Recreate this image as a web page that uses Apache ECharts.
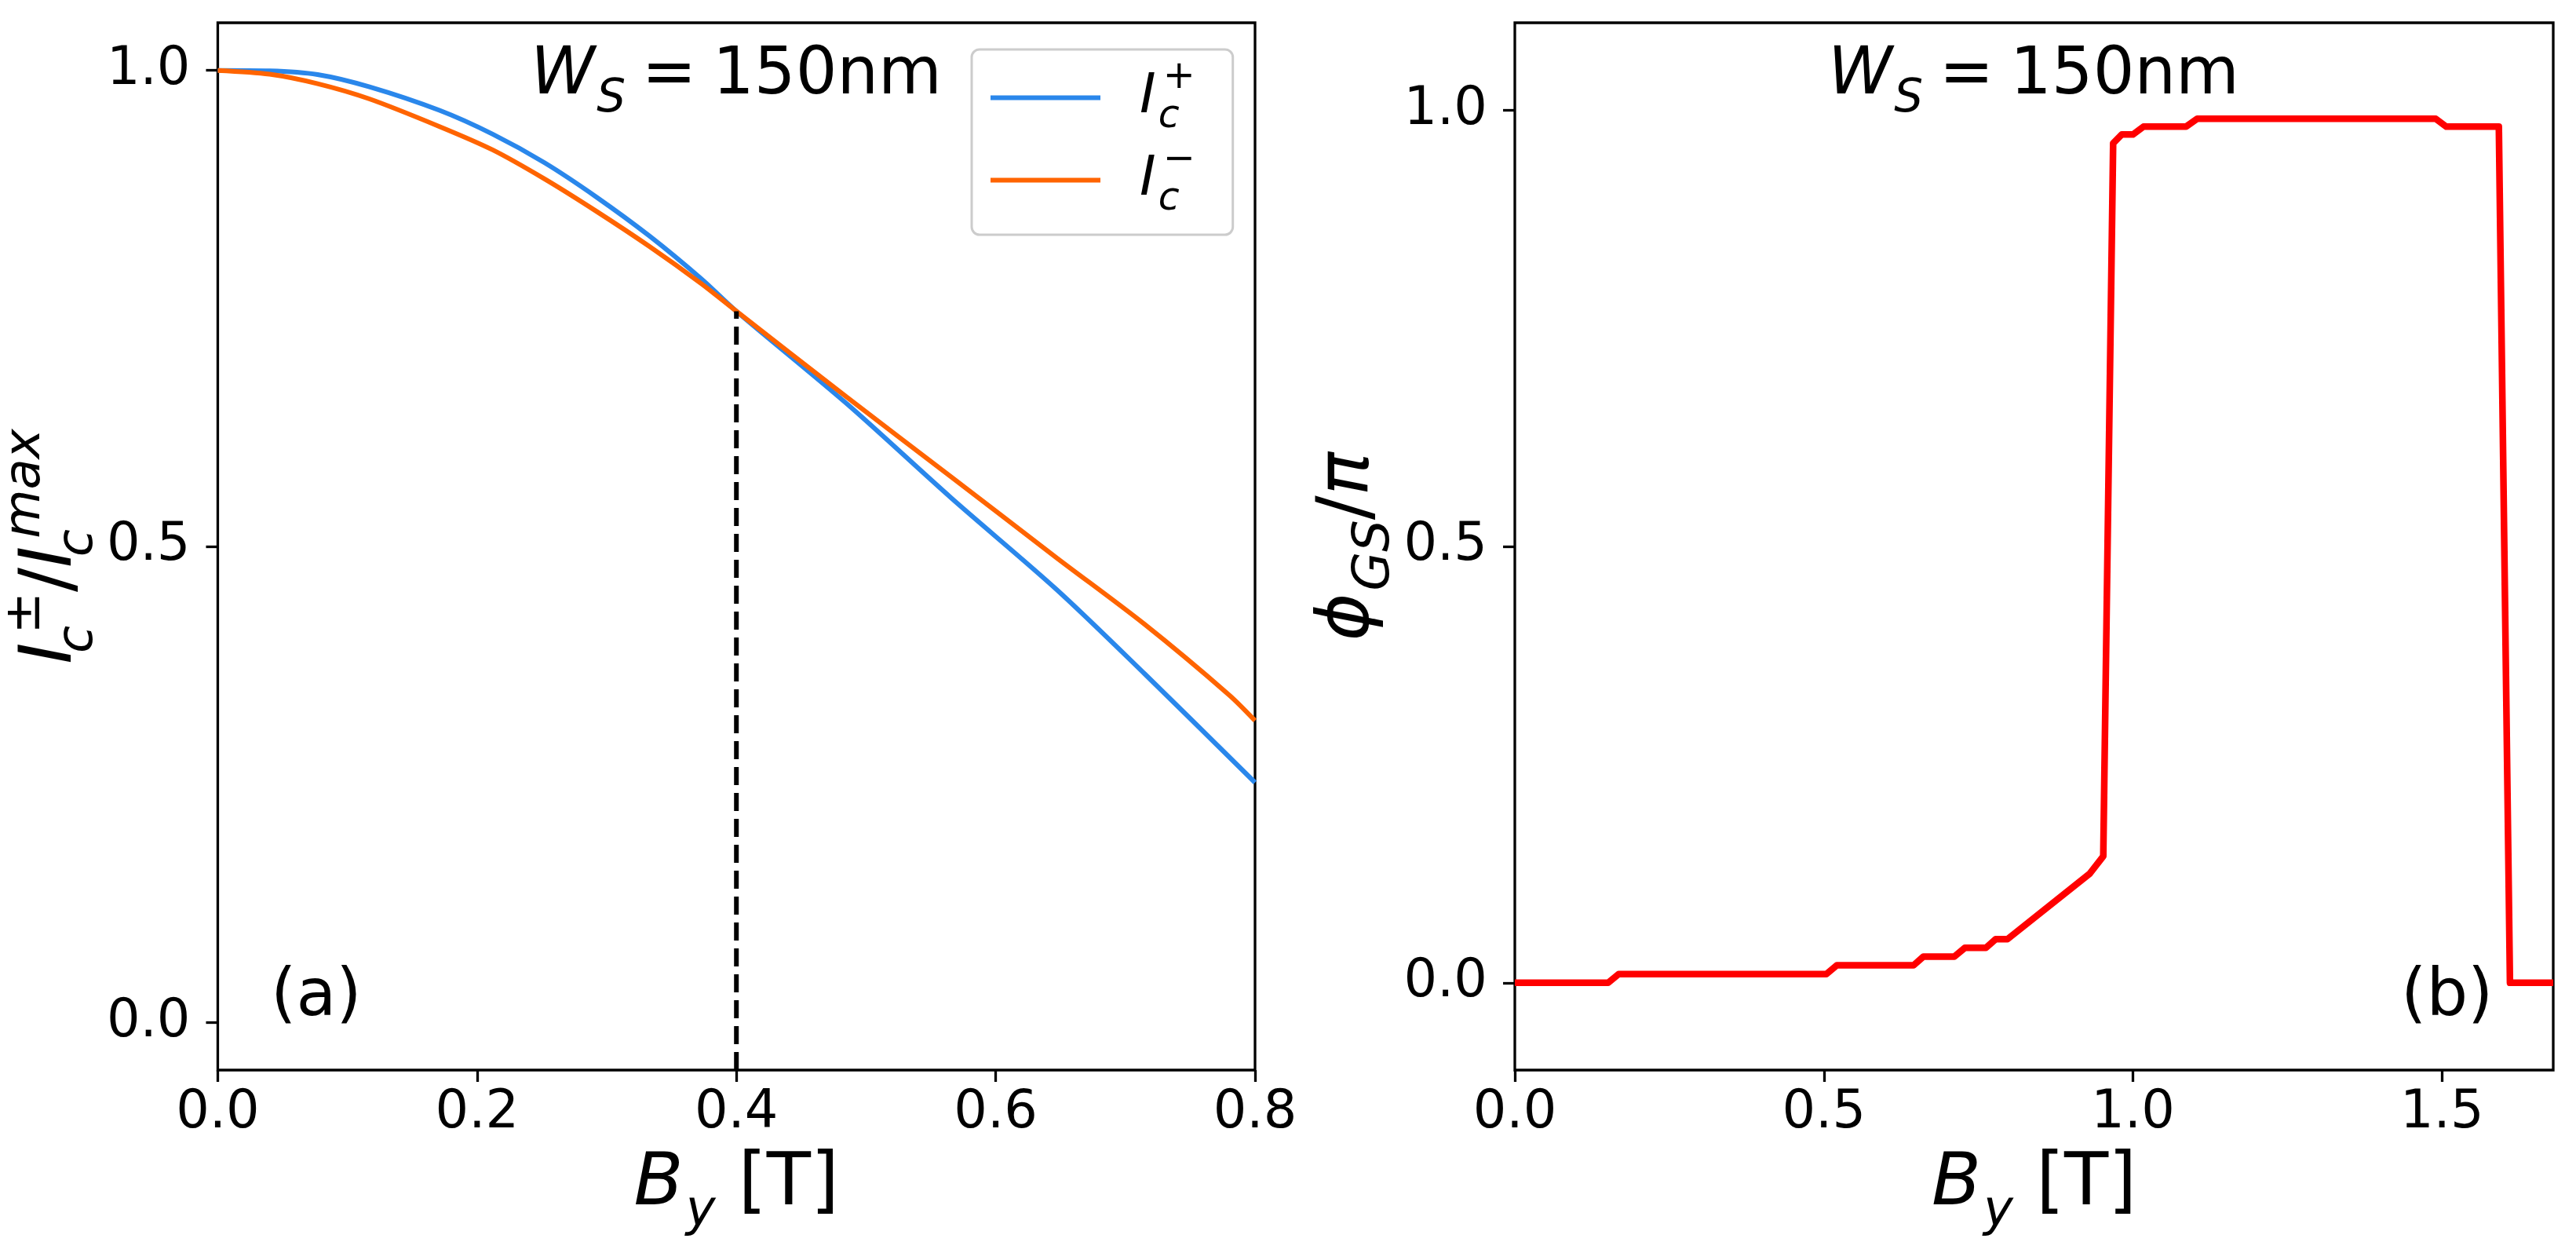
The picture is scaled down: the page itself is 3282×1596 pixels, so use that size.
<!DOCTYPE html>
<html lang="en">
<head>
<meta charset="UTF-8">
<title>Ic and phase vs By</title>
<script src="https://cdn.jsdelivr.net/npm/echarts@6/dist/echarts.min.js"></script>
<style>
body { margin: 0; padding: 0; background: white; }
#main { width: 3282px; height: 1596px; }
</style>
</head>
<body>
<div id="main"></div>
<script>
// panel (a): normalized critical currents vs By
var bPlus = [0, 0.04, 0.077, 0.117, 0.171, 0.212, 0.252, 0.292, 0.333, 0.373, 0.4, 0.485, 0.566, 0.647, 0.715, 0.8];
var icPlus = [1.0, 0.9995, 0.9956, 0.9827, 0.958, 0.933, 0.903, 0.867, 0.826, 0.781, 0.747, 0.650, 0.5505, 0.4547, 0.366, 0.252];
var bMinus = [0, 0.04, 0.077, 0.117, 0.171, 0.212, 0.252, 0.292, 0.333, 0.373, 0.4, 0.485, 0.566, 0.647, 0.715, 0.78, 0.8];
var icMinus = [1.0, 0.996, 0.986, 0.970, 0.941, 0.9165, 0.886, 0.852, 0.815, 0.776, 0.747, 0.657, 0.5727, 0.488, 0.418, 0.344, 0.317];
var crossX = [0.4, 0.4];
var crossY = [-0.05, 0.747];

// panel (b): ground state phase / pi vs By
var bB = [0, 0.151, 0.168, 0.504, 0.521, 0.645, 0.661, 0.711, 0.728, 0.762, 0.778, 0.797, 0.930, 0.952,
          0.968, 0.982, 1.0, 1.017, 1.086, 1.104, 1.49, 1.507, 1.592, 1.61, 1.68];
var phiGS = [0, 0, 0.01, 0.01, 0.02, 0.02, 0.03, 0.03, 0.04, 0.04, 0.05, 0.05, 0.125, 0.145,
             0.962, 0.972, 0.972, 0.981, 0.981, 0.99, 0.99, 0.981, 0.981, 0.0, 0.0];

var ticksA_x = [0, 0.2, 0.4, 0.6, 0.8];
var ticksA_y = [0, 0.5, 1.0];
var ticksB_x = [0, 0.5, 1.0, 1.5];
var ticksB_y = [0, 0.5, 1.0];

var FONT = 'DejaVu Sans';

function zip(xs, ys) {
    return xs.map(function (x, i) { return [x, ys[i]]; });
}

// rich styles that fake mathtext sub/superscripts
function mathRich(s) {
    var L = Math.round(1.42 * s), ss = Math.round(0.7 * s), hs = Math.round(0.864 * s);
    var base = {fontFamily: FONT, color: '#000'};
    function st(o) { return Object.assign({}, base, o); }
    return {
        it: st({fontSize: s, fontStyle: 'italic', lineHeight: L, verticalAlign: 'middle'}),
        itg: st({fontSize: s, fontStyle: 'italic', lineHeight: L, verticalAlign: 'middle', padding: [0, 0, 0, 45]}),
        rm: st({fontSize: s, lineHeight: L, verticalAlign: 'middle'}),
        sub: st({fontSize: ss, fontStyle: 'italic', lineHeight: ss, verticalAlign: 'bottom', padding: [0, 0, 0, Math.round(0.03 * s)]}),
        subz: st({fontSize: ss, fontStyle: 'italic', lineHeight: ss, verticalAlign: 'bottom', width: 0, padding: [0, 0, 0, Math.round(0.04 * s)]}),
        sup: st({fontSize: ss, lineHeight: hs, verticalAlign: 'top', padding: [0, 0, 0, Math.round(0.08 * s)]}),
        supi: st({fontSize: ss, fontStyle: 'italic', lineHeight: hs, verticalAlign: 'top', padding: [0, 0, 0, Math.round(0.06 * s)]})
    };
}

function fmt1(v) { return v.toFixed(1); }

function xAxisCfg(grid, min, max, ticks) {
    return {
        type: 'value', gridIndex: grid, min: min, max: max,
        axisLine: {show: false, onZero: false},
        splitLine: {show: false},
        axisTick: {show: true, length: 15, customValues: ticks, lineStyle: {color: '#000', width: 3.3}},
        axisLabel: {customValues: ticks, formatter: fmt1, fontSize: 67, fontFamily: FONT, color: '#000', margin: 22},
        name: '{it|B}{sub|y}{rm| [T]}',
        nameLocation: 'middle',
        nameGap: 82,
        nameTextStyle: {rich: mathRich(92)}
    };
}

function yAxisCfg(grid, min, max, ticks, name) {
    return {
        type: 'value', gridIndex: grid, min: min, max: max,
        axisLine: {show: false, onZero: false},
        splitLine: {show: false},
        axisTick: {show: true, length: 15, customValues: ticks, lineStyle: {color: '#000', width: 3.3}},
        axisLabel: {customValues: ticks, formatter: fmt1, fontSize: 67, fontFamily: FONT, color: '#000', margin: 35},
        name: name,
        nameLocation: 'middle',
        nameRotate: 90,
        nameGap: 134,
        nameTextStyle: {rich: mathRich(92)}
    };
}

var chart = echarts.init(document.getElementById('main'));

var wsText = '{it|W}{sub|S}{rm|\u2005=\u2005150nm}';

chart.setOption({
    backgroundColor: '#fff',
    animation: false,
    grid: [
        {left: 277, top: 29, width: 1322, height: 1334, show: true, borderColor: '#000', borderWidth: 3.3, backgroundColor: 'transparent'},
        {left: 1930, top: 29, width: 1323, height: 1334, show: true, borderColor: '#000', borderWidth: 3.3, backgroundColor: 'transparent'}
    ],
    xAxis: [
        xAxisCfg(0, 0, 0.8, ticksA_x),
        xAxisCfg(1, 0, 1.68, ticksB_x)
    ],
    yAxis: [
        yAxisCfg(0, -0.05, 1.05, ticksA_y, '{it|I}{subz|c}{sup|±}{rm|/}{it|I}{subz|c}{supi|max}'),
        yAxisCfg(1, -0.1, 1.1, ticksB_y, '{it|ϕ}{sub|GS}{rm|/}{it|π}')
    ],
    legend: {
        data: ['Ic+', 'Ic-'],
        orient: 'vertical',
        left: 1238,
        top: 63,
        padding: [12, 48, 20, 24],
        itemGap: 6,
        icon: 'rect',
        itemWidth: 140,
        itemHeight: 6,
        selectedMode: false,
        backgroundColor: 'rgba(255,255,255,0.8)',
        borderColor: '#cccccc',
        borderWidth: 3,
        borderRadius: 10,
        formatter: function (name) {
            return name === 'Ic+' ? '{itg|I}{subz|c}{sup|+}' : '{itg|I}{subz|c}{sup|−}';
        },
        textStyle: {fontSize: 70, rich: mathRich(70)}
    },
    graphic: [
        {type: 'text', x: 938, y: 97, style: {text: wsText, rich: mathRich(83), align: 'center', verticalAlign: 'middle'}},
        {type: 'text', x: 2591, y: 97, style: {text: wsText, rich: mathRich(83), align: 'center', verticalAlign: 'middle'}},
        {type: 'text', x: 345, y: 1271, style: {text: '(a)', fontSize: 83, fontFamily: FONT, fill: '#000', align: 'left', verticalAlign: 'middle'}},
        {type: 'text', x: 3059, y: 1271, style: {text: '(b)', fontSize: 83, fontFamily: FONT, fill: '#000', align: 'left', verticalAlign: 'middle'}}
    ],
    series: [
        {
            name: 'Ic+', type: 'line', xAxisIndex: 0, yAxisIndex: 0,
            data: zip(bPlus, icPlus), symbol: 'none', smooth: 0.3,
            lineStyle: {color: '#2a87eb', width: 6}, itemStyle: {color: '#2a87eb'}
        },
        {
            name: 'Ic-', type: 'line', xAxisIndex: 0, yAxisIndex: 0,
            data: zip(bMinus, icMinus), symbol: 'none', smooth: 0.3,
            lineStyle: {color: '#ff6400', width: 6}, itemStyle: {color: '#ff6400'}
        },
        {
            name: 'cross', type: 'line', xAxisIndex: 0, yAxisIndex: 0,
            data: zip(crossX, crossY), symbol: 'none',
            lineStyle: {color: '#000', width: 6, type: [23, 10]}
        },
        {
            name: 'phi', type: 'line', xAxisIndex: 1, yAxisIndex: 1,
            data: zip(bB, phiGS), symbol: 'none',
            lineStyle: {color: '#ff0000', width: 8.5, join: 'round'}
        }
    ]
});
</script>
</body>
</html>
